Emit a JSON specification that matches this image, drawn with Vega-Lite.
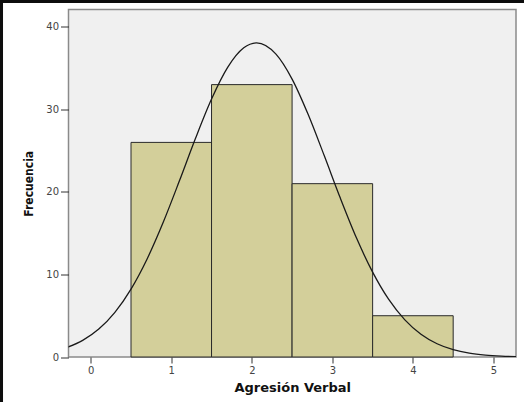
{
  "$schema": "https://vega.github.io/schema/vega-lite/v6.json",
  "width": 447.5,
  "height": 347.5,
  "autosize": "none",
  "padding": {"left": 68.5, "top": 9.5, "right": 8, "bottom": 45},
  "background": "#0d0d0d",
  "config": {
    "view": {"stroke": null},
    "axis": {
      "domain": false,
      "grid": false,
      "ticks": true,
      "tickColor": "#333333",
      "tickWidth": 1,
      "labelFont": "DejaVu Sans",
      "labelFontSize": 10,
      "labelColor": "#444444",
      "titleFontWeight": "bold",
      "titleColor": "#111111"
    },
    "axisX": {"tickSize": 6, "labelPadding": 2, "titleFont": "DejaVu Sans", "titleFontSize": 13, "titlePadding": 6},
    "axisY": {"tickSize": 8, "labelPadding": 2, "titleFont": "DejaVu Sans Condensed, Liberation Sans, sans-serif", "titleFontSize": 12, "titlePadding": 10}
  },
  "datasets": {
    "bins": [
      {"start": 0.5, "end": 1.5, "count": 26},
      {"start": 1.5, "end": 2.5, "count": 33},
      {"start": 2.5, "end": 3.5, "count": 21},
      {"start": 3.5, "end": 4.5, "count": 5}
    ],
    "curve": [
      {"x": -0.3, "y": 1.139}, {"x": -0.1, "y": 2.014}, {"x": 0.1, "y": 3.384}, {"x": 0.3, "y": 5.41},
      {"x": 0.5, "y": 8.225}, {"x": 0.7, "y": 11.88}, {"x": 0.9, "y": 16.32}, {"x": 1.1, "y": 21.31},
      {"x": 1.3, "y": 26.47}, {"x": 1.5, "y": 31.25}, {"x": 1.7, "y": 35.09}, {"x": 1.9, "y": 37.46},
      {"x": 2.059, "y": 38.06}, {"x": 2.3, "y": 36.69}, {"x": 2.5, "y": 33.67}, {"x": 2.7, "y": 29.37},
      {"x": 2.9, "y": 24.37}, {"x": 3.1, "y": 19.22}, {"x": 3.3, "y": 14.41}, {"x": 3.5, "y": 10.28},
      {"x": 3.7, "y": 6.968}, {"x": 3.9, "y": 4.492}, {"x": 4.1, "y": 2.753}, {"x": 4.3, "y": 1.604},
      {"x": 4.5, "y": 0.889}, {"x": 4.7, "y": 0.468}, {"x": 4.9, "y": 0.2346}, {"x": 5.1, "y": 0.1117},
      {"x": 5.3, "y": 0.0506}
    ]
  },
  "layer": [
    {
      "data": {"values": [{}]},
      "mark": {"type": "rect", "fill": "#ffffff", "clip": false},
      "encoding": {
        "x": {"datum": -1.089, "type": "quantitative", "scale": {"domain": [-0.276, 5.28], "nice": false, "zero": false}, "title": "Agresión Verbal", "axis": {"values": [0, 1, 2, 3, 4, 5], "format": "d", "zindex": 2}},
        "x2": {"datum": 5.6},
        "y": {"datum": -6, "type": "quantitative", "scale": {"domain": [0, 42.1], "nice": false}, "title": "Frecuencia", "axis": {"values": [0, 10, 20, 30, 40], "format": "d", "zindex": 2}},
        "y2": {"datum": 42.9}
      }
    },
    {
      "data": {"values": [{}]},
      "mark": {"type": "rect", "fill": "#f0f0f0", "stroke": "#8a8a8a", "strokeWidth": 1.5},
      "encoding": {
        "x": {"datum": -0.276, "type": "quantitative", "title": "Agresión Verbal"},
        "x2": {"datum": 5.28},
        "y": {"datum": 0, "type": "quantitative", "title": "Frecuencia"},
        "y2": {"datum": 42.1}
      }
    },
    {
      "data": {"name": "bins"},
      "mark": {"type": "rect", "fill": "#d3cf9a", "stroke": "#2a2a2a", "strokeWidth": 1},
      "encoding": {
        "x": {"field": "start", "type": "quantitative", "title": "Agresión Verbal"},
        "x2": {"field": "end"},
        "y": {"field": "count", "type": "quantitative", "title": "Frecuencia"},
        "y2": {"datum": 0}
      }
    },
    {
      "data": {"name": "curve"},
      "mark": {"type": "line", "color": "#1a1a1a", "strokeWidth": 1.3, "interpolate": "monotone", "clip": true},
      "encoding": {
        "x": {"field": "x", "type": "quantitative", "title": "Agresión Verbal"},
        "y": {"field": "y", "type": "quantitative", "title": "Frecuencia"}
      }
    }
  ]
}
